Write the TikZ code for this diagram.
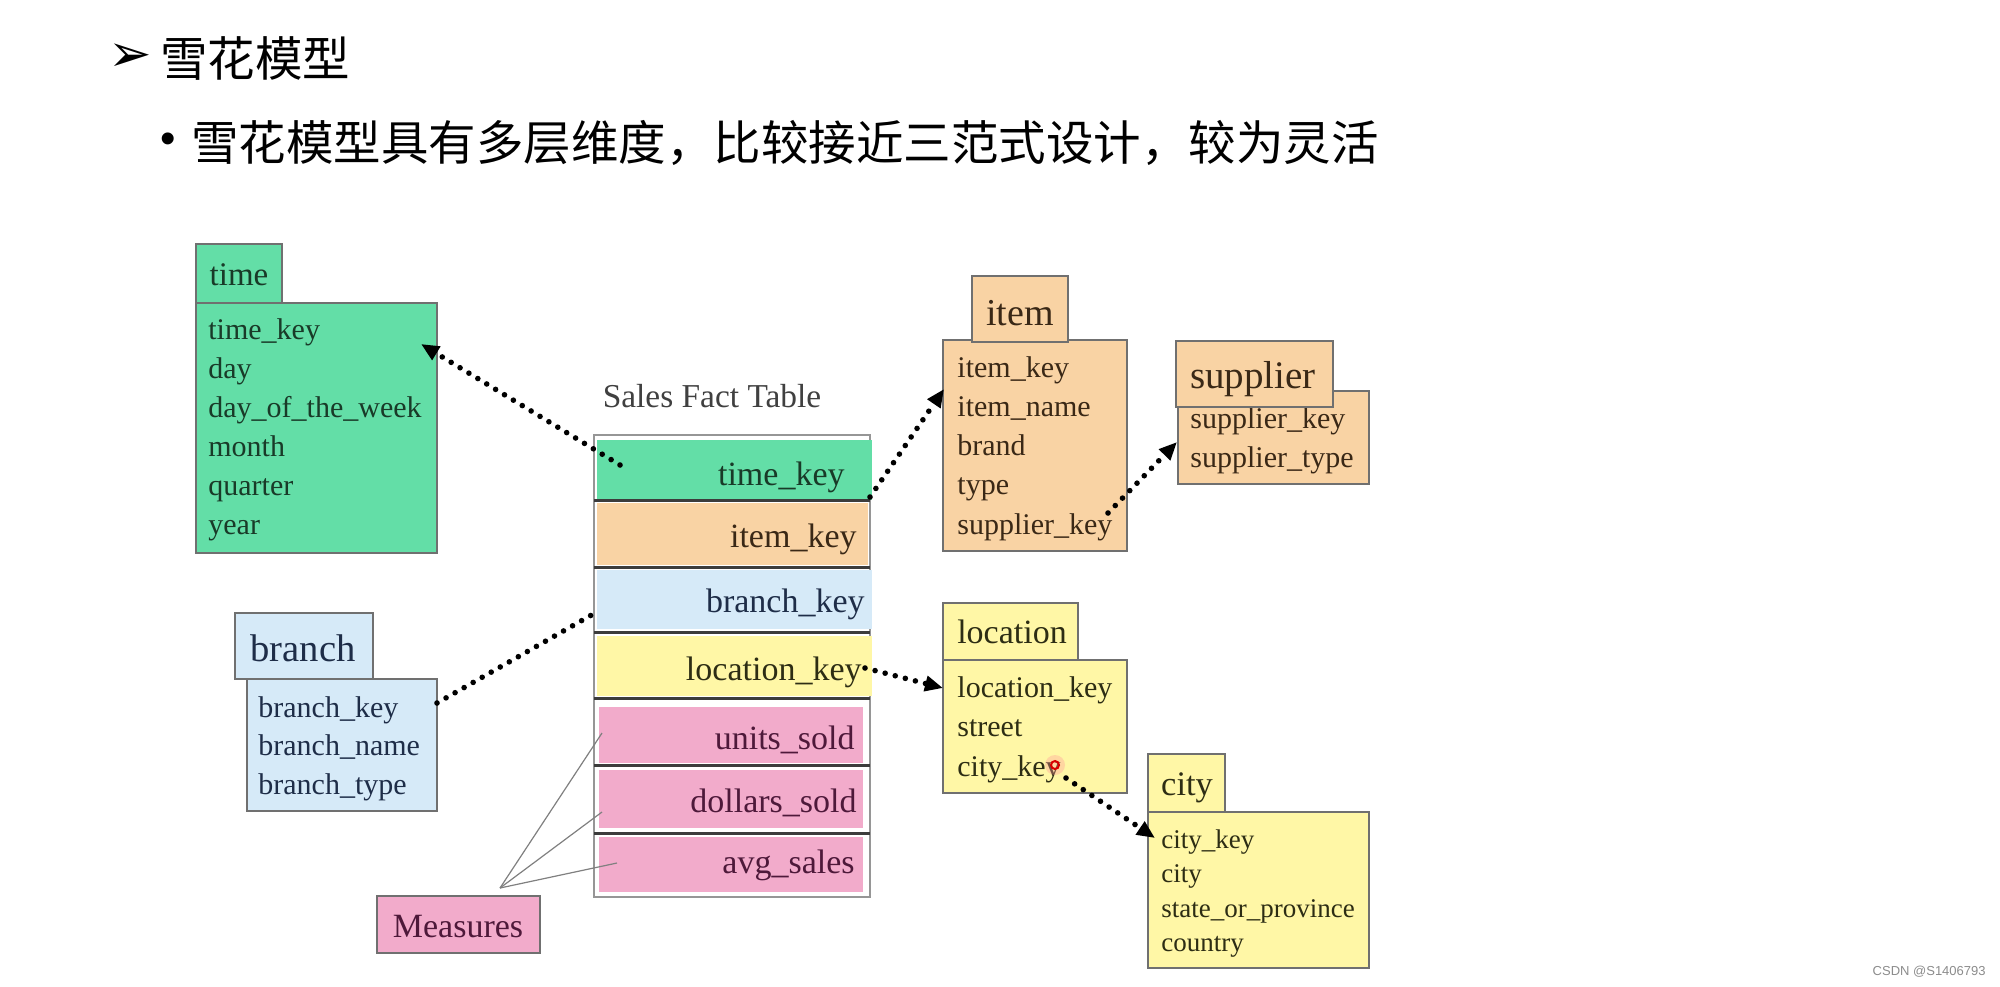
\documentclass[tikz,border=0pt]{standalone}
\usepackage{fontspec}
\setmainfont{Liberation Serif}
\newfontfamily\cjk{Noto Sans CJK SC}
\newfontfamily\dejavu{DejaVu Sans}
\newfontfamily\wmfont{Liberation Sans}
\usetikzlibrary{arrows.meta}
\definecolor{tgreen}{RGB}{99,222,167}
\definecolor{tpeach}{RGB}{249,211,164}
\definecolor{tblue}{RGB}{214,234,248}
\definecolor{tyellow}{RGB}{255,247,166}
\definecolor{tpink}{RGB}{242,171,203}
\definecolor{bordergray}{RGB}{112,112,112}
\definecolor{outergray}{RGB}{150,150,150}
\definecolor{sepgray}{RGB}{60,60,60}
\definecolor{txgreen}{RGB}{25,58,40}
\definecolor{txbrown}{RGB}{58,40,22}
\definecolor{txblue}{RGB}{30,45,72}
\definecolor{txolive}{RGB}{45,45,20}
\definecolor{txpurple}{RGB}{78,25,58}
\begin{document}
\begin{tikzpicture}[x=0.5pt,y=-0.5pt,
  box/.style={draw=bordergray, line width=1pt},
  bodytxt/.style={anchor=base west, inner sep=0pt, font=\fontsize{15pt}{18pt}\selectfont},
  citytxt/.style={anchor=base west, inner sep=0pt, font=\fontsize{13.5pt}{16pt}\selectfont},
  facttxt/.style={anchor=base east, inner sep=0pt, font=\fontsize{17pt}{20pt}\selectfont},
  titletxt/.style={anchor=base, inner sep=0pt},
  dotlink/.style={line width=2.8pt, dash pattern=on 0pt off 5.2pt, line cap=round},
  arrowtip/.style={-{Triangle[length=9pt,width=7.5pt]}},
  rowsep/.style={draw=sepgray, line width=1.5pt},
  measline/.style={draw=gray, line width=0.6pt},
]
\fill[white] (0,0) rectangle (2000,986);
\path[use as bounding box] (0,0) rectangle (2000,986);

% ---------- header ----------
\node[anchor=west, inner sep=0pt] (bularrow) at (108,58) {\dejavu\fontsize{26pt}{26pt}\selectfont ➢};
\node[anchor=west, inner sep=0pt] (title) at (160,58) {\cjk\fontsize{23.75pt}{24pt}\selectfont 雪花模型};
\node[inner sep=0pt] (buldot) at (168,143) {\wmfont\fontsize{22pt}{22pt}\selectfont •};
\node[anchor=west, inner sep=0pt] (desc) at (191,143) {\cjk\fontsize{23.75pt}{24pt}\selectfont 雪花模型具有多层维度，比较接近三范式设计，较为灵活};

% ---------- time ----------
\path[box, fill=tgreen] (196,244) rectangle (282,303);
\path[box, fill=tgreen] (196,303) rectangle (437,553);
\node[titletxt, text=txgreen, font=\fontsize{16.5pt}{18pt}\selectfont] (timeT) at (239,285) {time};
\foreach \t [count=\i] in {time\_key, day, day\_of\_the\_week, month, quarter, year}
  \node[bodytxt, text=txgreen] (time-\i) at (208,{339+39*(\i-1)}) {\t};

% ---------- item ----------
\path[box, fill=tpeach] (943,340) rectangle (1127,551);
\path[box, fill=tpeach] (972,276) rectangle (1068,342);
\node[titletxt, text=txbrown, font=\fontsize{19pt}{20pt}\selectfont] (itemT) at (1020,325) {item};
\foreach \t [count=\i] in {item\_key, item\_name, brand, type, supplier\_key}
  \node[bodytxt, text=txbrown] (item-\i) at (957,{377+39.3*(\i-1)}) {\t};

% ---------- supplier ----------
\path[box, fill=tpeach] (1178,391) rectangle (1369,484);
\node[bodytxt, text=txbrown] (sup-1) at (1190,428) {supplier\_key};
\node[bodytxt, text=txbrown] (sup-2) at (1190,467) {supplier\_type};
\path[box, fill=tpeach] (1176,341) rectangle (1333,407);
\node[titletxt, text=txbrown, font=\fontsize{19.5pt}{20pt}\selectfont] (supT) at (1253,388) {supplier};

% ---------- branch ----------
\path[box, fill=tblue] (235,613) rectangle (373,679);
\path[box, fill=tblue] (247,679) rectangle (437,811);
\node[titletxt, text=txblue, font=\fontsize{19.3pt}{20pt}\selectfont] (branchT) at (303,661) {branch};
\foreach \t [count=\i] in {branch\_key, branch\_name, branch\_type}
  \node[bodytxt, text=txblue] (branch-\i) at (258,{717+38.5*(\i-1)}) {\t};

% ---------- location ----------
\path[box, fill=tyellow] (943,603) rectangle (1078,660);
\path[box, fill=tyellow] (943,660) rectangle (1127,793);
\node[titletxt, text=txolive, font=\fontsize{17pt}{18pt}\selectfont] (locT) at (1012,643) {location};
\foreach \t [count=\i] in {location\_key, street, city\_key}
  \node[bodytxt, text=txolive] (loc-\i) at (957,{697+39.5*(\i-1)}) {\t};

% ---------- city ----------
\path[box, fill=tyellow] (1148,754) rectangle (1225,812);
\path[box, fill=tyellow] (1148,812) rectangle (1369,968);
\node[titletxt, text=txolive, font=\fontsize{17.2pt}{18pt}\selectfont] (cityT) at (1187,795) {city};
\foreach \t [count=\i] in {city\_key, city, state\_or\_province, country}
  \node[citytxt, text=txolive] (city-\i) at (1161,{848+34.5*(\i-1)}) {\t};

% ---------- fact table ----------
\node[titletxt, font=\fontsize{16.7pt}{18pt}\selectfont, text=black!75] (factT) at (712,407) {Sales Fact Table};
\path[draw=outergray, line width=1pt, fill=white] (594,435) rectangle (870,897);
\fill[tgreen] (597,440) rectangle (872,500);
\fill[tpeach] (597,503) rectangle (868,565);
\fill[tblue] (597,570) rectangle (872,629);
\fill[tyellow] (597,636) rectangle (872,696);
\fill[tpink] (599,707) rectangle (863,763);
\fill[tpink] (599,770) rectangle (863,828);
\fill[tpink] (599,837) rectangle (863,892);
\draw[rowsep] (594,500) -- (870,500);
\draw[rowsep] (594,567) -- (870,567);
\draw[rowsep] (594,632) -- (870,632);
\draw[rowsep] (594,698) -- (870,698);
\draw[rowsep] (594,765) -- (870,765);
\draw[rowsep] (594,833) -- (870,833);
\node[facttxt, text=txgreen] (fk-time) at (845,485) {time\_key};
\node[facttxt, text=txbrown] (fk-item) at (857,547) {item\_key};
\node[facttxt, text=txblue] (fk-branch) at (865,612) {branch\_key};
\node[facttxt, text=txolive] (fk-loc) at (862,680) {location\_key};
\node[facttxt, text=txpurple] (fk-units) at (855,749) {units\_sold};
\node[facttxt, text=txpurple] (fk-dollars) at (857,812) {dollars\_sold};
\node[facttxt, text=txpurple] (fk-avg) at (855,873) {avg\_sales};

% ---------- measures ----------
\path[box, fill=tpink] (377,896) rectangle (540,953);
\node[titletxt, text=txpurple, font=\fontsize{17pt}{18pt}\selectfont] (meas) at (458,937) {Measures};
\coordinate (measHub) at (500,888);
\coordinate (mUnits) at (602,733);
\coordinate (mDollars) at (602,812);
\coordinate (mAvg) at (617,863);
\draw[measline] (measHub) -- (mUnits);
\draw[measline] (measHub) -- (mDollars);
\draw[measline] (measHub) -- (mAvg);

% ---------- connectors ----------
\coordinate (cTimeS) at (620,465);
\coordinate (cTimeE) at (421,344);
\coordinate (cItemS) at (870,497);
\coordinate (cItemE) at (944,389);
\coordinate (cSupS) at (1108,513);
\coordinate (cSupE) at (1177,442);
\coordinate (cBrS) at (437,703);
\coordinate (cBrE) at (595,613);
\coordinate (cLocS) at (865,668);
\coordinate (cLocE) at (943,688);
\coordinate (cCityS) at (1066,778);
\coordinate (cCityE) at (1155,838);
\draw[dotlink, arrowtip] (cTimeS) -- (cTimeE);
\draw[dotlink, arrowtip] (cItemS) -- (cItemE);
\draw[dotlink, arrowtip] (cSupS) -- (cSupE);
\draw[dotlink] (cBrS) -- (cBrE);
\draw[dotlink, arrowtip] (cLocS) -- (cLocE);
\draw[dotlink, arrowtip] (cCityS) -- (cCityE);

% ---------- cursor mark ----------
\fill[red!40, opacity=0.35] (1055,765) circle (10);
\draw[red!85!black, line width=1pt] (1055,765) circle (4);

% ---------- watermark ----------
\node[anchor=east, inner sep=0pt, text=black!45] (wm) at (1986,972) {\wmfont\fontsize{6.5pt}{7pt}\selectfont CSDN @S1406793};
\end{tikzpicture}
\end{document}
